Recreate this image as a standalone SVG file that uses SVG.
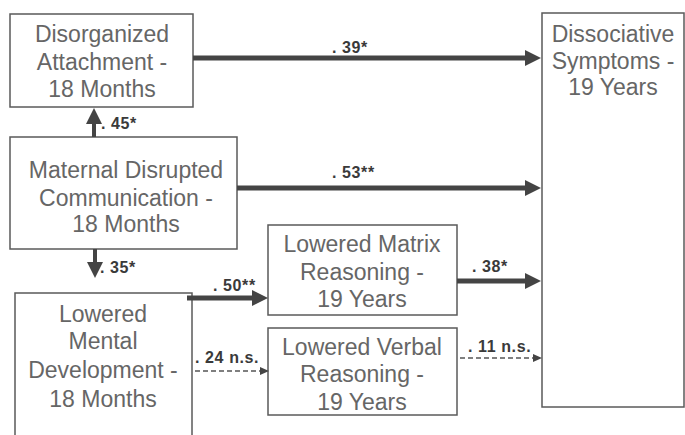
<svg xmlns="http://www.w3.org/2000/svg" width="685" height="435" viewBox="0 0 685 435">
<style>
.box{fill:#fff;stroke:#5a5a5a;stroke-width:1.5}
.t{font-family:"Liberation Sans",Arial,sans-serif;font-size:23px;fill:#666;text-anchor:middle}
.lbl{font-family:"Liberation Sans",Arial,sans-serif;font-size:16px;font-weight:bold;fill:#3a3a3a;letter-spacing:0.6px}
.thick{stroke:#444;stroke-width:5;fill:none}
.dash{stroke:#555;stroke-width:1.5;stroke-dasharray:5 3;fill:none}
</style>
<defs>
<marker id="hd" markerUnits="userSpaceOnUse" markerWidth="16" markerHeight="16" viewBox="0 0 16 16" refX="6" refY="8" orient="auto"><path d="M0,0 L16,8 L0,16 Z" fill="#444"/></marker>
<marker id="hs" markerUnits="userSpaceOnUse" markerWidth="9" markerHeight="8" viewBox="0 0 9 8" refX="4" refY="4" orient="auto"><path d="M0,0 L9,4 L0,8 Z" fill="#444"/></marker>
</defs>
<rect width="685" height="435" fill="#fff"/>
<g id="n-attach"><rect class="box" x="10" y="14" width="183" height="93"/>
<text class="t" x="102" y="42">Disorganized</text><text class="t" x="102" y="70">Attachment -</text><text class="t" x="102" y="97">18 Months</text></g>
<g id="n-maternal"><rect class="box" x="10" y="137" width="227" height="112"/>
<text class="t" x="126" y="178">Maternal Disrupted</text><text class="t" x="126" y="206">Communication -</text><text class="t" x="126" y="232">18 Months</text></g>
<g id="n-mental"><rect class="box" x="15" y="293" width="177" height="160"/>
<text class="t" x="103" y="322">Lowered</text><text class="t" x="103" y="349">Mental</text><text class="t" x="103" y="378">Development -</text><text class="t" x="103" y="407">18 Months</text></g>
<g id="n-matrix"><rect class="box" x="268" y="225" width="189" height="90"/>
<text class="t" x="362" y="252">Lowered Matrix</text><text class="t" x="362" y="280">Reasoning -</text><text class="t" x="362" y="307">19 Years</text></g>
<g id="n-verbal"><rect class="box" x="268" y="328" width="189" height="87"/>
<text class="t" x="362" y="355">Lowered Verbal</text><text class="t" x="362" y="382">Reasoning -</text><text class="t" x="362" y="410">19 Years</text></g>
<g id="n-dissoc"><rect class="box" x="542" y="13" width="142" height="394"/>
<text class="t" x="613" y="42">Dissociative</text><text class="t" x="613" y="69">Symptoms -</text><text class="t" x="613" y="95">19 Years</text></g>
<g id="connectors">
<line class="thick" x1="193" y1="58" x2="531" y2="58" marker-end="url(#hd)"/>
<line class="thick" x1="237" y1="188" x2="531" y2="188" marker-end="url(#hd)"/>
<line class="thick" x1="94" y1="137" x2="94" y2="118" style="stroke-width:4" marker-end="url(#hd)"/>
<line class="thick" x1="95" y1="249" x2="95" y2="268" style="stroke-width:4" marker-end="url(#hd)"/>
<line class="thick" x1="187" y1="298" x2="258" y2="298" marker-end="url(#hd)"/>
<line class="thick" x1="457" y1="281" x2="531" y2="281" marker-end="url(#hd)"/>
<line class="dash" x1="195" y1="371" x2="264" y2="371" marker-end="url(#hs)"/>
<line class="dash" x1="460" y1="358" x2="537" y2="358" marker-end="url(#hs)"/>
<text class="lbl" x="332" y="53">. 39*</text>
<text class="lbl" x="332" y="178">. 53**</text>
<text class="lbl" x="101" y="129">. 45*</text>
<text class="lbl" x="100" y="273">. 35*</text>
<text class="lbl" x="213" y="291">. 50**</text>
<text class="lbl" x="195" y="363">. 24 n.s.</text>
<text class="lbl" x="472" y="272">. 38*</text>
<text class="lbl" x="468" y="352">. 11 n.s.</text>
</g>
</svg>
